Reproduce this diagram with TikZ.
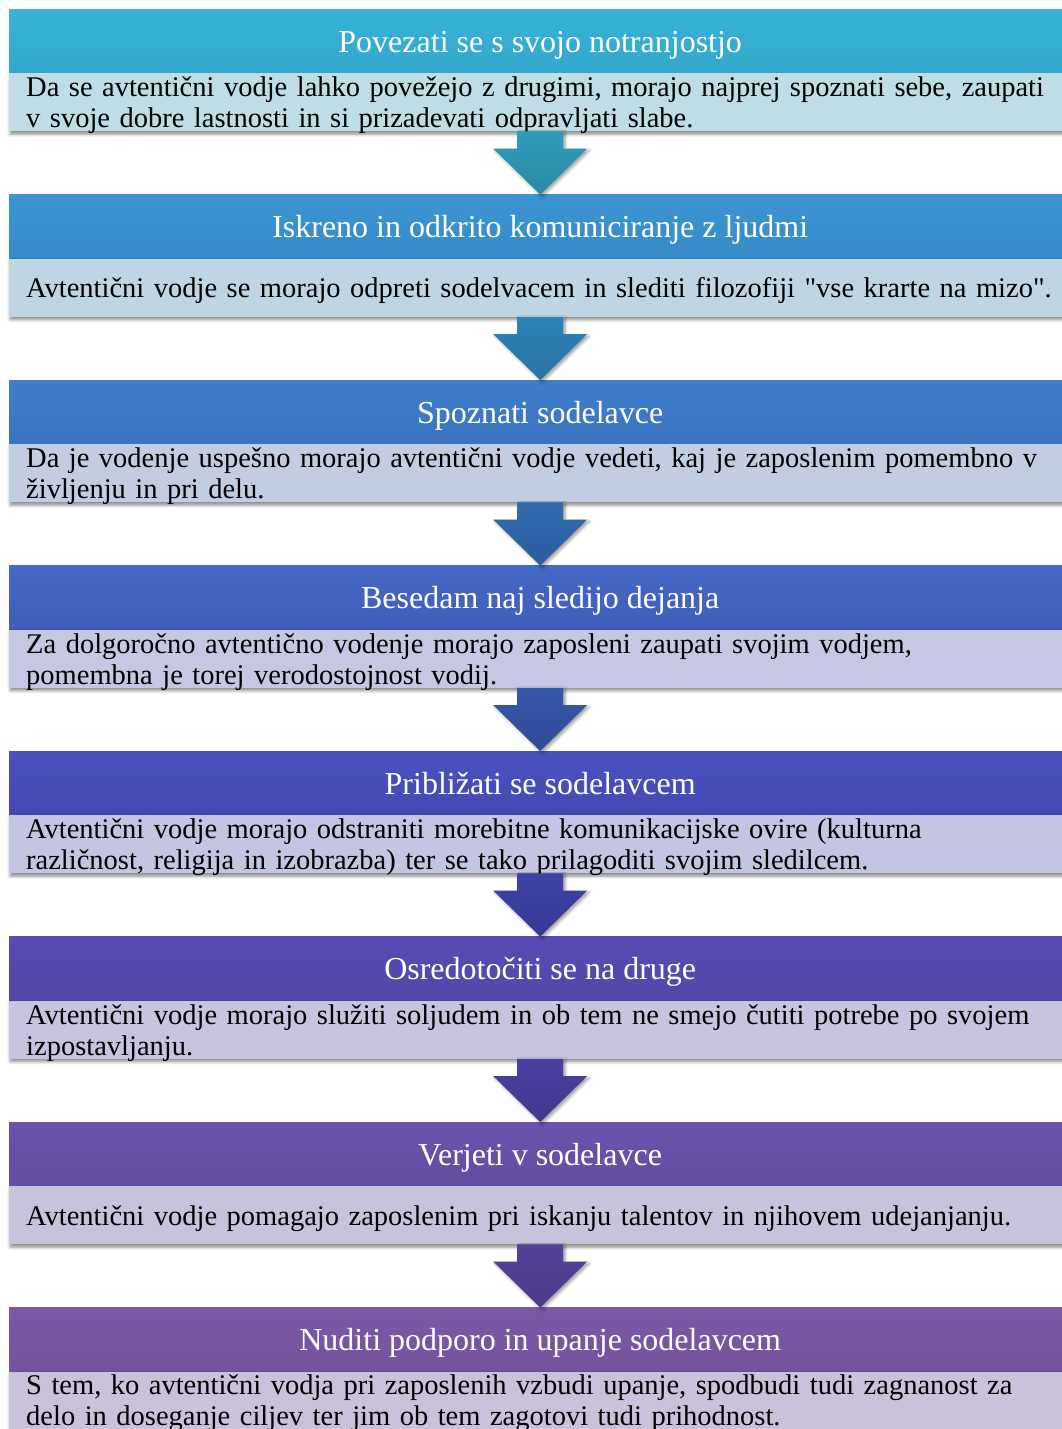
\documentclass[tikz,border=0pt]{standalone}
\usepackage{fontspec}
\setmainfont{Liberation Serif}
\usetikzlibrary{calc,shadows.blur}

% header colours (top / bottom of the gradient)
\definecolor{h1t}{HTML}{38B3D8}\definecolor{h1b}{HTML}{33A7CC}
\definecolor{h2t}{HTML}{3B95D1}\definecolor{h2b}{HTML}{378BC6}
\definecolor{h3t}{HTML}{3F7ECC}\definecolor{h3b}{HTML}{3B74C0}
\definecolor{h4t}{HTML}{4468C5}\definecolor{h4b}{HTML}{405EB8}
\definecolor{h5t}{HTML}{4A51BF}\definecolor{h5b}{HTML}{4549B2}
\definecolor{h6t}{HTML}{584CB4}\definecolor{h6b}{HTML}{5246A8}
\definecolor{h7t}{HTML}{6B53AD}\definecolor{h7b}{HTML}{644CA1}
\definecolor{h8t}{HTML}{7C59A7}\definecolor{h8b}{HTML}{74529B}
% body colours
\definecolor{b1}{HTML}{BEDDE6}
\definecolor{b2}{HTML}{C0D5E4}
\definecolor{b3}{HTML}{C1CEE2}
\definecolor{b4}{HTML}{C3C9E2}
\definecolor{b5}{HTML}{C4C5E2}
\definecolor{b6}{HTML}{C6C4DF}
\definecolor{b7}{HTML}{C8C3DC}
\definecolor{b8}{HTML}{CAC1DA}
% block arrow colours
\definecolor{a1t}{HTML}{2C9DB9}\definecolor{a1b}{HTML}{2A8AA3}
\definecolor{a2t}{HTML}{2D84B8}\definecolor{a2b}{HTML}{2A72A3}
\definecolor{a3t}{HTML}{306CAE}\definecolor{a3b}{HTML}{2D5C9C}
\definecolor{a4t}{HTML}{3658A9}\definecolor{a4b}{HTML}{314996}
\definecolor{a5t}{HTML}{3D43A6}\definecolor{a5b}{HTML}{363893}
\definecolor{a6t}{HTML}{4A40A0}\definecolor{a6b}{HTML}{41388E}
\definecolor{a7t}{HTML}{56429A}\definecolor{a7b}{HTML}{4B3A89}
\definecolor{a8t}{HTML}{62489B}\definecolor{a8b}{HTML}{563F8A}

\tikzset{
  hdr/.style={anchor=north west, minimum width=1062pt, minimum height=64pt,
    inner sep=0pt, text=white, font=\fontsize{32}{38}\selectfont,
    text height=22pt, text depth=0pt},
  bdy/.style={anchor=north west, minimum width=1062pt, minimum height=58pt,
    inner sep=0pt, fill=#1,
    blur shadow={shadow xshift=1pt, shadow yshift=-3pt,
      shadow blur radius=3pt, shadow opacity=45}},
  btxt/.style={anchor=base west, text width=1060pt, align=left,
    inner sep=0pt, font=\fontsize{28.5}{31}\selectfont},
  blockarrow/.style 2 args={top color=#1, bottom color=#2,
    blur shadow={shadow xshift=2pt, shadow yshift=-2pt,
      shadow blur radius=3pt, shadow opacity=40}}
}

% block arrow from the body above to the header below
\newcommand{\stepdown}[4]{%
  \path[blockarrow={#3}{#4}]
    ($(#1.south)+(-23,0)$) -- ($(#1.south)+(23,0)$)
    -- ($(#2.north)+(23,-46)$) -- ($(#2.north)+(47,-46)$)
    -- (#2.north)
    -- ($(#2.north)+(-47,-46)$) -- ($(#2.north)+(-23,-46)$) -- cycle;}
% straight double quote, from a font instance without the TeX text mapping
\font\plainquote="Liberation Serif" at 28.5pt
\newcommand{\dq}{{\plainquote\char34}}

\begin{document}
\begin{tikzpicture}[x=1pt, y=-1pt]
\useasboundingbox (0,0) rectangle (1062,1429);

% stage 1
\node[hdr, top color=h1t, bottom color=h1b] (h1) at (9,9) {Povezati se s svojo notranjostjo};
\node[bdy=b1] (b1) at (9,73) {};
\node[btxt] (t1) at (26,96) {Da se avtentični vodje lahko povežejo z drugimi, morajo najprej spoznati sebe, zaupati\\v svoje dobre lastnosti in si prizadevati odpravljati slabe.};

% stage 2
\node[hdr, top color=h2t, bottom color=h2b] (h2) at (9,194.5) {Iskreno in odkrito komuniciranje z ljudmi};
\node[bdy=b2] (b2) at (9,258.5) {};
\node[btxt] (t2) at (26,297.5) {Avtentični vodje se morajo odpreti sodelvacem in slediti filozofiji \dq vse krarte na mizo\dq.};

% stage 3
\node[hdr, top color=h3t, bottom color=h3b] (h3) at (9,380) {Spoznati sodelavce};
\node[bdy=b3] (b3) at (9,444) {};
\node[btxt] (t3) at (26,467) {Da je vodenje uspešno morajo avtentični vodje vedeti, kaj je zaposlenim pomembno v\\življenju in pri delu.};

% stage 4
\node[hdr, top color=h4t, bottom color=h4b] (h4) at (9,565.5) {Besedam naj sledijo dejanja};
\node[bdy=b4] (b4) at (9,629.5) {};
\node[btxt] (t4) at (26,653) {Za dolgoročno avtentično vodenje morajo zaposleni zaupati svojim vodjem,\\pomembna je torej verodostojnost vodij.};

% stage 5
\node[hdr, top color=h5t, bottom color=h5b] (h5) at (9,751) {Približati se sodelavcem};
\node[bdy=b5] (b5) at (9,815) {};
\node[btxt] (t5) at (26,838.5) {Avtentični vodje morajo odstraniti morebitne komunikacijske ovire (kulturna\\različnost, religija in izobrazba) ter se tako prilagoditi svojim sledilcem.};

% stage 6
\node[hdr, top color=h6t, bottom color=h6b] (h6) at (9,936.5) {Osredotočiti se na druge};
\node[bdy=b6] (b6) at (9,1000.5) {};
\node[btxt] (t6) at (26,1024) {Avtentični vodje morajo služiti soljudem in ob tem ne smejo čutiti potrebe po svojem\\izpostavljanju.};

% stage 7
\node[hdr, top color=h7t, bottom color=h7b] (h7) at (9,1122) {Verjeti v sodelavce};
\node[bdy=b7] (b7) at (9,1186) {};
\node[btxt] (t7) at (26,1225) {Avtentični vodje pomagajo zaposlenim pri iskanju talentov in njihovem udejanjanju.};

% stage 8
\node[hdr, top color=h8t, bottom color=h8b] (h8) at (9,1307.5) {Nuditi podporo in upanje sodelavcem};
\node[bdy=b8] (b8) at (9,1371.5) {};
\node[btxt] (t8) at (26,1394.5) {S tem, ko avtentični vodja pri zaposlenih vzbudi upanje, spodbudi tudi zagnanost za\\delo in doseganje ciljev ter jim ob tem zagotovi tudi prihodnost.};

% connecting block arrows
\stepdown{b1}{h2}{a1t}{a1b}
\stepdown{b2}{h3}{a2t}{a2b}
\stepdown{b3}{h4}{a3t}{a3b}
\stepdown{b4}{h5}{a4t}{a4b}
\stepdown{b5}{h6}{a5t}{a5b}
\stepdown{b6}{h7}{a6t}{a6b}
\stepdown{b7}{h8}{a7t}{a7b}
\end{tikzpicture}
\end{document}
